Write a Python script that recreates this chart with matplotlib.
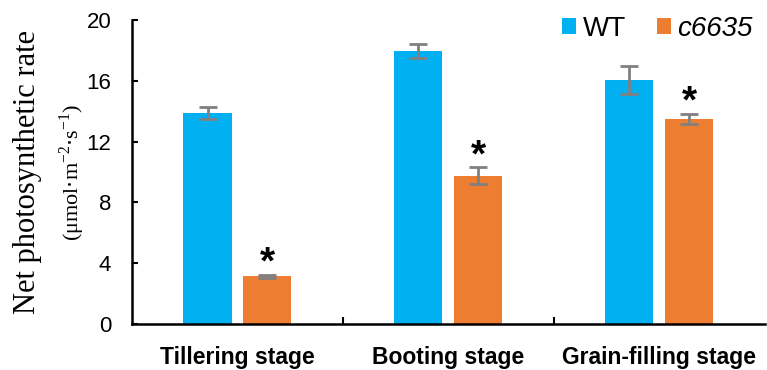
import numpy as np
import matplotlib.pyplot as plt

# Net photosynthetic rate, WT vs c6635 at three growth stages
stages = ['Tillering stage', 'Booting stage', 'Grain-filling stage']
wt_mean = [13.9, 17.95, 16.05]
wt_err = [0.38, 0.48, 0.9]
mut_mean = [3.15, 9.75, 13.5]
mut_err = [0.1, 0.55, 0.32]
yticks = [0, 4, 8, 12, 16, 20]

c_wt = '#00B0F0'
c_mut = '#ED7D31'
c_err = '#808080'

dpi = 100
fig = plt.figure(figsize=(767/dpi, 370/dpi), dpi=dpi)
ax = fig.add_axes([0.1721, 0.124, 0.825, 0.822])

x = np.arange(len(stages))
w = 0.228
off = 0.142
ekw = dict(ecolor=c_err, elinewidth=2, capsize=6.5, capthick=2)
ax.bar(x - off, wt_mean, w, color=c_wt, yerr=wt_err, error_kw=ekw, label='WT')
ax.bar(x + off, mut_mean, w, color=c_mut, yerr=mut_err, error_kw=ekw, label='c6635')

# significance stars over the mutant bars
for xi, m, e in zip(x + off, mut_mean, mut_err):
    ax.annotate('*', xy=(xi, m + e), xytext=(0, 0.8), textcoords='offset points',
                ha='center', va='baseline', fontsize=28, fontweight='bold',
                family='Liberation Sans')

ax.set_xlim(-0.5, 2.5)
ax.set_ylim(0, 20)
ax.set_yticks(yticks)
ax.set_yticklabels([str(t) for t in yticks], family='Liberation Sans', fontsize=16)
ax.tick_params(axis='y', direction='in', length=4.5, width=1.5, pad=15)

# category separators on the x axis
ax.set_xticks([0.5, 1.5], minor=True)
ax.set_xticks(x)
ax.set_xticklabels(stages, family='Liberation Sans', fontsize=16.5, fontweight='bold')
ax.tick_params(axis='x', which='major', length=0, pad=16)
ax.tick_params(axis='x', which='minor', direction='in', length=5, width=1.5)

for s in ['top', 'right']:
    ax.spines[s].set_visible(False)
for s in ['left', 'bottom']:
    ax.spines[s].set_linewidth(1.8)

fig.text(28/767, 0.535, 'Net photosynthetic rate', rotation=90, ha='center', va='center',
         family='Liberation Serif', fontsize=22)
fig.text(72/767, 0.535, r'($\mathregular{\mu}$mol$\cdot$m$^{\mathregular{-2}}$$\cdot$s$^{\mathregular{-1}}$)',
         rotation=90, ha='center', va='center', family='Liberation Serif', fontsize=16)

leg = ax.legend(loc='center left', bbox_to_anchor=(562/767, 1 - 29/370),
                bbox_transform=fig.transFigure, ncol=2, frameon=False,
                borderpad=0, borderaxespad=0,
                handlelength=0.5, handleheight=0.5, handletextpad=0.25, columnspacing=1.1,
                prop={'family': 'Liberation Sans', 'size': 20})
leg.get_texts()[1].set_fontstyle('italic')

plt.savefig('out.png', dpi=dpi)
